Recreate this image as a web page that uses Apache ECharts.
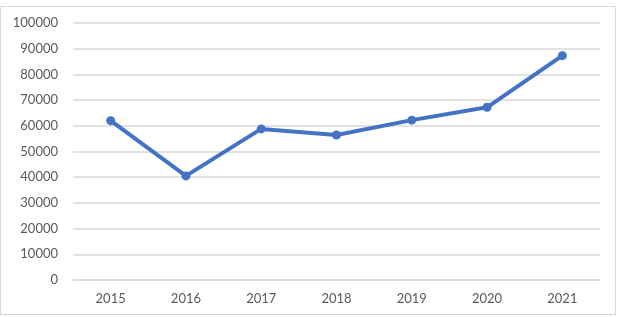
<!DOCTYPE html>
<html><head><meta charset="utf-8">
<script src="https://cdn.jsdelivr.net/npm/echarts@6/dist/echarts.min.js"></script>
<style>
html,body{margin:0;padding:0;background:#fff;}
#wrap{position:absolute;left:0;top:6px;width:616px;height:309px;border:1px solid #d9d9d9;box-sizing:border-box;}
#c{position:absolute;left:0;top:0;width:620px;height:317px;}
</style></head>
<body>
<div id="wrap"></div>
<div id="c"></div>
<script>
const categories = ['2015','2016','2017','2018','2019','2020','2021'];
const values = [62000, 40500, 58800, 56400, 62200, 67200, 87300];
const chart = echarts.init(document.getElementById('c'));
chart.setOption({
  animation:false,
  grid:{left:73, right:20, top:23, bottom:37},
  xAxis:{type:'category', data:categories, boundaryGap:true,
    axisLine:{show:true, lineStyle:{color:'#d9d9d9', width:1.5}},
    axisTick:{show:false},
    axisLabel:{color:'#595959', fontFamily:'Lato', fontSize:13, margin:12}},
  yAxis:{type:'value', min:0, max:100000, interval:10000,
    axisLine:{show:false}, axisTick:{show:false},
    splitLine:{lineStyle:{color:'#d9d9d9', width:1.5}},
    axisLabel:{color:'#595959', fontFamily:'Lato', fontSize:13, margin:15,
      formatter:function(v){return String(v);}}},
  series:[{type:'line', data:values, symbol:'circle', symbolSize:9,
    lineStyle:{color:'#4472C4', width:4}, itemStyle:{color:'#4472C4'}}]
});
</script>
</body></html>
